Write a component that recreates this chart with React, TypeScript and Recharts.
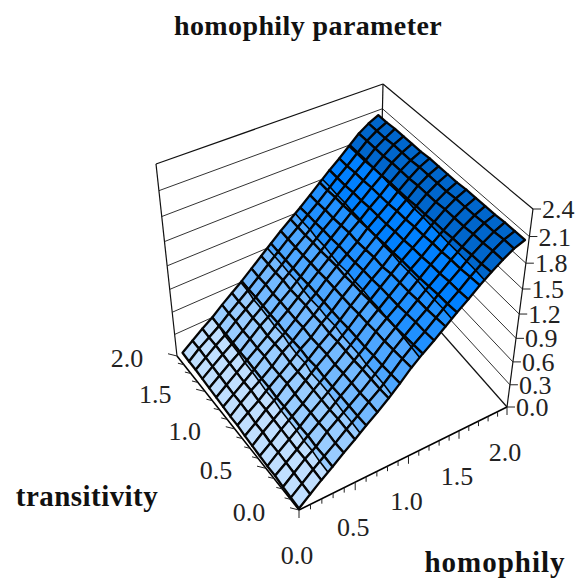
import { ScatterChart, Scatter, XAxis, YAxis } from "recharts";

const W = 579;
const H = 581;

const homophilySteps = [0, 0.1, 0.2, 0.3, 0.4, 0.5, 0.6, 0.7, 0.8, 0.9, 1, 1.1, 1.2, 1.3, 1.4, 1.5, 1.6, 1.7, 1.8, 1.9, 2];
const transitivitySteps = [0, 0.125, 0.25, 0.375, 0.5, 0.625, 0.75, 0.875, 1, 1.125, 1.25, 1.375, 1.5, 1.625, 1.75, 1.875, 2];
const floorLabels = [0, 0.5, 1, 1.5, 2];
const zTicks = [0, 0.3, 0.6, 0.9, 1.2, 1.5, 1.8, 2.1, 2.4];
const bandColors = ["#c0dfff", "#99ccff", "#73b9ff", "#4da6ff", "#2090ff", "#0080ff", "#0066cc", "#0059b3"];
const titles = ["homophily parameter", "transitivity", "homophily"];

// one row per homophily step, columns run along transitivity
const surfaceRows = [
  [0.02, 0.02, 0.02, 0.03, 0.02, 0.02, 0.02, 0.02, 0.03, 0.02, 0.02, 0.02, 0.02, 0.02, 0.02, 0.01, 0.01],
  [0.13, 0.13, 0.13, 0.13, 0.13, 0.12, 0.13, 0.12, 0.13, 0.13, 0.12, 0.12, 0.12, 0.12, 0.12, 0.12, 0.11],
  [0.24, 0.24, 0.24, 0.23, 0.23, 0.23, 0.23, 0.23, 0.22, 0.23, 0.22, 0.22, 0.22, 0.22, 0.22, 0.21, 0.21],
  [0.34, 0.34, 0.33, 0.34, 0.33, 0.33, 0.33, 0.32, 0.33, 0.32, 0.32, 0.32, 0.31, 0.31, 0.31, 0.30, 0.30],
  [0.45, 0.44, 0.45, 0.44, 0.44, 0.43, 0.43, 0.44, 0.43, 0.42, 0.43, 0.42, 0.42, 0.41, 0.42, 0.41, 0.41],
  [0.55, 0.55, 0.55, 0.54, 0.54, 0.54, 0.54, 0.53, 0.53, 0.54, 0.53, 0.52, 0.53, 0.52, 0.52, 0.51, 0.51],
  [0.66, 0.65, 0.65, 0.65, 0.64, 0.64, 0.65, 0.63, 0.64, 0.63, 0.62, 0.63, 0.62, 0.62, 0.62, 0.61, 0.61],
  [0.76, 0.76, 0.75, 0.75, 0.75, 0.74, 0.75, 0.74, 0.73, 0.74, 0.73, 0.73, 0.73, 0.72, 0.73, 0.72, 0.72],
  [0.87, 0.86, 0.86, 0.86, 0.85, 0.85, 0.85, 0.84, 0.85, 0.84, 0.85, 0.84, 0.83, 0.84, 0.83, 0.83, 0.83],
  [0.99, 0.98, 0.97, 0.97, 0.96, 0.96, 0.96, 0.95, 0.95, 0.95, 0.95, 0.95, 0.94, 0.94, 0.94, 0.94, 0.94],
  [1.12, 1.11, 1.10, 1.09, 1.09, 1.08, 1.08, 1.07, 1.07, 1.07, 1.07, 1.06, 1.06, 1.05, 1.05, 1.05, 1.05],
  [1.23, 1.22, 1.21, 1.20, 1.20, 1.19, 1.19, 1.18, 1.18, 1.17, 1.18, 1.17, 1.16, 1.16, 1.15, 1.15, 1.15],
  [1.33, 1.32, 1.32, 1.31, 1.30, 1.30, 1.30, 1.29, 1.29, 1.28, 1.28, 1.28, 1.27, 1.27, 1.26, 1.26, 1.25],
  [1.44, 1.43, 1.42, 1.42, 1.41, 1.41, 1.41, 1.39, 1.40, 1.39, 1.38, 1.39, 1.38, 1.37, 1.37, 1.36, 1.36],
  [1.55, 1.54, 1.54, 1.53, 1.52, 1.52, 1.52, 1.51, 1.51, 1.50, 1.50, 1.49, 1.49, 1.48, 1.48, 1.47, 1.47],
  [1.65, 1.64, 1.64, 1.63, 1.63, 1.62, 1.62, 1.61, 1.61, 1.60, 1.60, 1.60, 1.59, 1.59, 1.58, 1.58, 1.58],
  [1.76, 1.75, 1.74, 1.74, 1.73, 1.73, 1.72, 1.72, 1.71, 1.71, 1.70, 1.70, 1.70, 1.69, 1.69, 1.68, 1.68],
  [1.86, 1.85, 1.85, 1.84, 1.84, 1.83, 1.83, 1.82, 1.82, 1.81, 1.81, 1.81, 1.80, 1.80, 1.79, 1.79, 1.79],
  [1.95, 1.95, 1.94, 1.94, 1.93, 1.93, 1.93, 1.92, 1.92, 1.92, 1.91, 1.91, 1.91, 1.90, 1.90, 1.90, 1.90],
  [2.03, 2.03, 2.02, 2.02, 2.01, 2.01, 2.01, 2.00, 2.00, 2.00, 2.00, 1.99, 1.99, 1.99, 1.98, 1.98, 1.98],
  [2.08, 2.08, 2.08, 2.07, 2.07, 2.07, 2.07, 2.06, 2.06, 2.06, 2.06, 2.05, 2.05, 2.05, 2.05, 2.04, 2.04],
];

type V = { h: number; t: number; z: number };
type Pt = { x: number; y: number };

// corners of the box on the page: floor and top, front/right/left/back
const floorBox = { f: [299, 510], r: [507, 407], l: [177, 356], b: [379, 262] };
const topBox = { f: [295, 299], r: [533, 209], l: [156, 164], b: [383, 84] };

const warp = (s: number, k: number) => s / (s + k * (1 - s));

function project(h: number, t: number, z: number): Pt {
  const u = warp(h / 2, 0.9);
  const v = warp(t / 2, 0.9);
  const w = warp(z / 2.4, 1.13);
  const mix = (box: typeof floorBox, n: 0 | 1) =>
    (1 - u) * (1 - v) * box.f[n] + u * (1 - v) * box.r[n] + (1 - u) * v * box.l[n] + u * v * box.b[n];
  return {
    x: (1 - w) * mix(floorBox, 0) + w * mix(topBox, 0),
    y: (1 - w) * mix(floorBox, 1) + w * mix(topBox, 1),
  };
}

// the sheet sits slightly inside the box along homophily
function projectSheet(v: V): Pt {
  const lo = (0.05 * v.t) / 2;
  const hi = 1.96;
  return project(lo + (v.h / 2) * (hi - lo), v.t, v.z);
}

const cut = (a: V, b: V, level: number): V => {
  const f = (level - a.z) / (b.z - a.z);
  return { h: a.h + (b.h - a.h) * f, t: a.t + (b.t - a.t) * f, z: level };
};

function clip(poly: V[], level: number, keepAbove: boolean): V[] {
  const out: V[] = [];
  poly.forEach((a, i) => {
    const b = poly[(i + 1) % poly.length];
    const aIn = keepAbove ? a.z >= level : a.z <= level;
    const bIn = keepAbove ? b.z >= level : b.z <= level;
    if (aIn) out.push(a);
    if (aIn !== bIn) out.push(cut(a, b, level));
  });
  return out;
}

const toPoints = (poly: V[]) =>
  poly
    .map((v) => {
      const p = projectSheet(v);
      return `${p.x.toFixed(2)},${p.y.toFixed(2)}`;
    })
    .join(" ");

// cells back to front so the near ones paint over
const cells: { x: number; y: number; corners: V[] }[] = [];
for (let i = homophilySteps.length - 2; i >= 0; i--) {
  for (let j = transitivitySteps.length - 2; j >= 0; j--) {
    const corners: V[] = [
      { h: homophilySteps[i], t: transitivitySteps[j], z: surfaceRows[i][j] },
      { h: homophilySteps[i + 1], t: transitivitySteps[j], z: surfaceRows[i + 1][j] },
      { h: homophilySteps[i + 1], t: transitivitySteps[j + 1], z: surfaceRows[i + 1][j + 1] },
      { h: homophilySteps[i], t: transitivitySteps[j + 1], z: surfaceRows[i][j + 1] },
    ];
    cells.push({ ...projectSheet(corners[0]), corners });
  }
}

function CellShape(props: any) {
  const corners: V[] = props.payload.corners;
  const parts: any[] = [];
  bandColors.forEach((color, b) => {
    const poly = clip(clip(corners, zTicks[b], true), zTicks[b + 1], false);
    if (poly.length > 2) {
      parts.push(<polygon key={b} points={toPoints(poly)} fill={color} stroke={color} strokeWidth={0.6} />);
    }
  });
  zTicks.forEach((level, n) => {
    const hits: V[] = [];
    corners.forEach((a, i) => {
      const b = corners[(i + 1) % 4];
      if (a.z < level !== b.z < level) hits.push(cut(a, b, level));
    });
    if (hits.length === 2) {
      const p = projectSheet(hits[0]);
      const q = projectSheet(hits[1]);
      parts.push(<line key={`c${n}`} x1={p.x} y1={p.y} x2={q.x} y2={q.y} stroke="#000" strokeWidth={1.6} />);
    }
  });
  return (
    <g>
      {parts}
      <polygon points={toPoints(corners)} fill="none" stroke="#050505" strokeWidth={2.3} strokeLinejoin="round" />
    </g>
  );
}

const noMark = () => <g />;

const seg = (a: Pt, b: Pt) => [a, b];
const wallLines = zTicks.slice(1, -1).flatMap((z) => [
  seg(project(0, 2, z), project(2, 2, z)),
  seg(project(2, 2, z), project(2, 0, z)),
]);
const frameLines = [
  seg(project(0, 2, 2.4), project(2, 2, 2.4)),
  seg(project(2, 2, 2.4), project(2, 0, 2.4)),
  seg(project(0, 2, 0), project(0, 2, 2.4)),
  seg(project(2, 2, 0), project(2, 2, 2.4)),
  seg(project(2, 0, 0), project(2, 0, 2.4)),
  seg(project(2, 0, 0), project(2, 2, 0)),
];
const axisLines = [
  seg(project(0, 0, 0), project(0, 2, 0)),
  seg(project(0, 0, 0), project(2, 0, 0)),
];

const fmt = (v: number) => v.toFixed(1);
const serif = "'Liberation Serif', serif";

const tTickData = transitivitySteps.map((t) => ({ ...project(0, t, 0), value: t }));
const hTickData = homophilySteps.map((h) => ({ ...project(h, 0, 0), value: h }));
const zTickData = zTicks.map((z) => ({ ...project(2, 0, z), value: z }));
const titleData = [
  { x: 308, y: 35, text: titles[0], size: 28, gap: 0.4 },
  { x: 87, y: 506, text: titles[1], size: 29, gap: 0.45 },
  { x: 495, y: 572, text: titles[2], size: 29, gap: 1 },
];

function TTick({ cx, cy, payload }: any) {
  const major = floorLabels.includes(payload.value);
  const len = major ? 9 : 6;
  return (
    <g>
      <line x1={cx} y1={cy} x2={cx - len} y2={cy - len * 0.25} stroke="#222" strokeWidth={1} />
      {major && (
        <text x={cx - 50} y={cy + 11} textAnchor="middle" fontSize={26} fontFamily={serif} fill="#222">
          {fmt(payload.value)}
        </text>
      )}
    </g>
  );
}

function HTick({ cx, cy, payload }: any) {
  const major = floorLabels.includes(payload.value);
  return (
    <g>
      <line x1={cx} y1={cy} x2={cx} y2={cy + (major ? 8 : 5)} stroke="#222" strokeWidth={1} />
      {major && (
        <text x={cx - 2} y={cy + 54} textAnchor="middle" fontSize={26} fontFamily={serif} fill="#222">
          {fmt(payload.value)}
        </text>
      )}
    </g>
  );
}

function ZTick({ cx, cy, payload }: any) {
  return (
    <g>
      <line x1={cx} y1={cy} x2={cx + 8} y2={cy} stroke="#222" strokeWidth={1} />
      <text x={cx + 9} y={cy + 9} textAnchor="start" fontSize={26} fontFamily={serif} fill="#222">
        {fmt(payload.value)}
      </text>
    </g>
  );
}

function TitleMark({ cx, cy, payload }: any) {
  return (
    <text
      x={cx}
      y={cy}
      textAnchor="middle"
      fontSize={payload.size}
      letterSpacing={payload.gap}
      fontWeight={700}
      fontFamily={serif}
      fill="#111"
    >
      {payload.text}
    </text>
  );
}

export default function App() {
  return (
    <div style={{ position: "absolute", left: 0, top: 0, width: W, height: H }}>
      <ScatterChart width={W} height={H} margin={{ top: 0, right: 0, bottom: 0, left: 0 }}>
        <XAxis type="number" dataKey="x" domain={[0, W]} hide allowDataOverflow />
        <YAxis type="number" dataKey="y" domain={[0, H]} reversed hide allowDataOverflow />
        {wallLines.map((d, i) => (
          <Scatter key={`w${i}`} data={d} line={{ stroke: "#333", strokeWidth: 1 }} shape={noMark} isAnimationActive={false} />
        ))}
        {frameLines.map((d, i) => (
          <Scatter key={`f${i}`} data={d} line={{ stroke: "#111", strokeWidth: 1.2 }} shape={noMark} isAnimationActive={false} />
        ))}
        {axisLines.map((d, i) => (
          <Scatter key={`a${i}`} data={d} line={{ stroke: "#000", strokeWidth: 1.6 }} shape={noMark} isAnimationActive={false} />
        ))}
        <Scatter data={tTickData} shape={TTick} isAnimationActive={false} />
        <Scatter data={hTickData} shape={HTick} isAnimationActive={false} />
        <Scatter data={zTickData} shape={ZTick} isAnimationActive={false} />
        <Scatter data={cells} shape={CellShape} isAnimationActive={false} />
        <Scatter data={titleData} shape={TitleMark} isAnimationActive={false} />
      </ScatterChart>
    </div>
  );
}
